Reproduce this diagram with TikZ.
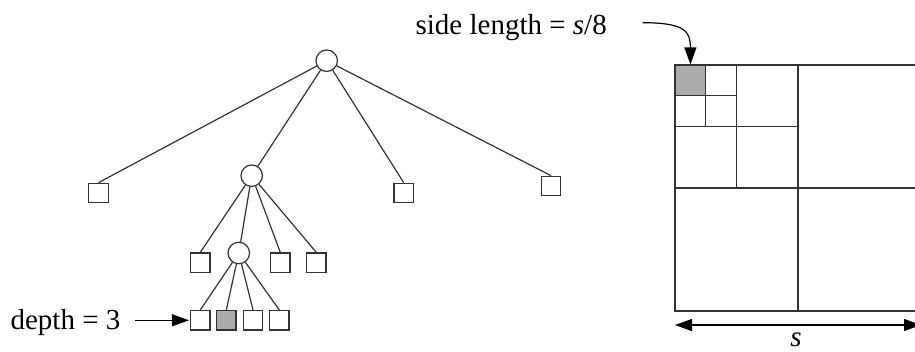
\documentclass[tikz,border=0pt]{standalone}
\usepackage{fontspec}
\setmainfont{Liberation Serif}
\usetikzlibrary{arrows.meta}
\begin{document}
\begin{tikzpicture}[x=1pt,y=-1pt,
  line width=1.2pt,
  draw=black!80,
  inner/.style={circle,draw=black!80,fill=white,minimum size=21.5pt,inner sep=0pt},
  leaf/.style={rectangle,draw=black!80,fill=white,minimum size=19.5pt,inner sep=0pt},
  hit/.style={leaf,fill=black!33},
  lbl/.style={inner sep=0pt,anchor=base west,text=black,font=\fontsize{29}{34}\selectfont},
  tip/.style={draw=black,-{Triangle[length=17pt,width=12pt]}},
  twotip/.style={draw=black,{Triangle[length=17pt,width=12pt]}-{Triangle[length=17pt,width=12pt]}},
  edge/.style={draw=black!80}]
\useasboundingbox (0,0) rectangle (915,352);
\clip (0,0) rectangle (915,352);

% tree
\node[inner] (root) at (326.7,60.7) {};
\node[inner] (c1) at (251.7,175.7) {};
\node[leaf] (a1) at (98.5,193) {};
\node[leaf] (a3) at (403.7,193) {};
\node[leaf] (a4) at (551,186) {};
\node[inner] (c2) at (238.8,253) {};
\node[leaf] (b1) at (200.3,262.7) {};
\node[leaf] (b3) at (280.3,262.7) {};
\node[leaf] (b4) at (316.3,262.7) {};
\node[leaf] (d1) at (200.3,320.3) {};
\node[hit]  (d2) at (226.3,320.3) {};
\node[leaf] (d3) at (253,320.3) {};
\node[leaf] (d4) at (279.3,320.3) {};

\foreach \n in {a1,a3,a4} \draw[edge] (root) -- (\n.north);
\draw[edge] (root) -- (c1);
\foreach \n in {b1,b3,b4} \draw[edge] (c1) -- (\n.north);
\draw[edge] (c1) -- (c2);
\foreach \n in {d1,d2,d3,d4} \draw[edge] (c2) -- (\n.north);

% depth label
\node[lbl] (dlabel) at (10,329.3) {depth = 3};
\coordinate (dstart) at (135,320.3);
\draw[tip,shorten >=1pt] (dstart) -- (d1.west);

% quadtree subdivision of the square of side s
\node[hit,minimum size=30.75pt] (cell) at (690.4,80.4) {};
\draw[edge] (675,65) rectangle (921,311);
\draw[edge] (798,65) -- (798,311);
\draw[edge] (675,188) -- (921,188);
\draw[edge] (736.5,65) -- (736.5,188);
\draw[edge] (675,126.5) -- (798,126.5);
\draw[edge] (705.75,65) -- (705.75,126.5);
\draw[edge] (675,95.75) -- (736.5,95.75);

% side length label
\node[lbl] (slabel) at (415,34.3) {side length = \textit{s}/8};
\coordinate (sstart) at (642.7,22.7);
\draw[tip] (sstart) .. controls (686,22.7) and (690.4,32) .. (cell.north);

% width of the square
\coordinate (wl) at (675,325);
\coordinate (wr) at (921,325);
\draw[twotip] (wl) -- (wr);
\node[lbl,anchor=base] (slen) at (796,347) {\textit{s}};
\end{tikzpicture}
\end{document}
